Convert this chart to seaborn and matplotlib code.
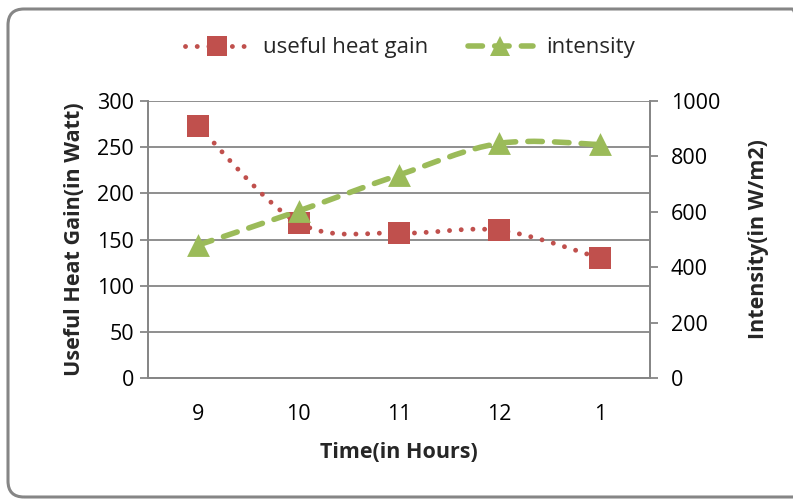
import matplotlib
matplotlib.use("Agg")
import matplotlib.pyplot as plt
import seaborn as sns
import pandas as pd
from matplotlib.path import Path
from matplotlib.patches import PathPatch, FancyBboxPatch
from matplotlib.lines import Line2D

# --- DATA ---
hours = ["9", "10", "11", "12", "1"]
heat_gain = [273, 168, 157, 160, 130]      # Watt
intensity = [480, 603, 733, 847, 843]      # W/m2

RED = "#C0504D"
GREEN = "#9BBB59"
GREY = "#868686"

sns.set_theme(style="white")
plt.rcParams["font.family"] = ["Open Sans", "DejaVu Sans"]


def smooth_path(xs, ys):
    """Excel-style smoothed line: Catmull-Rom as cubic bezier segments."""
    pts = list(zip(xs, ys))
    n = len(pts)
    verts = [pts[0]]
    codes = [Path.MOVETO]
    for i in range(n - 1):
        p0 = pts[i - 1] if i > 0 else pts[i]
        p1 = pts[i]
        p2 = pts[i + 1]
        p3 = pts[i + 2] if i + 2 < n else pts[i + 1]
        c1 = (p1[0] + (p2[0] - p0[0]) / 6, p1[1] + (p2[1] - p0[1]) / 6)
        c2 = (p2[0] - (p3[0] - p1[0]) / 6, p2[1] - (p3[1] - p1[1]) / 6)
        verts += [c1, c2, p2]
        codes += [Path.CURVE4] * 3
    return Path(verts, codes)


df = pd.DataFrame({"x": range(len(hours)), "heat": heat_gain, "intensity": intensity})

fig = plt.figure(figsize=(7.93, 5.0), dpi=100)
ax1 = fig.add_axes([148 / 793, 1 - 378 / 500, 502 / 793, 277 / 500])
ax2 = ax1.twinx()

RED_LS = (0, (0.01, 2.4))
GREEN_LS = (0, (2.6, 2.2))

# heat gain (left axis)
ax1.add_patch(PathPatch(smooth_path(df["x"], df["heat"]), fill=False, edgecolor=RED,
                        lw=3.5, linestyle=RED_LS, capstyle="round", zorder=3))
sns.scatterplot(data=df, x="x", y="heat", ax=ax1, marker="s", s=250, color=RED,
                linewidth=0, zorder=4, legend=False)

# intensity (right axis)
ax2.add_patch(PathPatch(smooth_path(df["x"], df["intensity"]), fill=False, edgecolor=GREEN,
                        lw=4.0, linestyle=GREEN_LS, capstyle="round", zorder=3))
sns.scatterplot(data=df, x="x", y="intensity", ax=ax2, marker="^", s=270, color=GREEN,
                linewidth=0, zorder=4, legend=False)

# axes limits / ticks
ax1.set_xlim(-0.5, len(hours) - 0.5)
ax1.set_ylim(0, 300)
ax2.set_ylim(0, 1000)
ax1.set_yticks(range(0, 301, 50))
ax2.set_yticks(range(0, 1001, 200))
ax1.set_xticks(range(len(hours)))
ax1.set_xticklabels(hours)
ax1.set_xticks([i - 0.5 for i in range(len(hours) + 1)], minor=True)

ax1.grid(axis="y", color=GREY, lw=1.3)
ax1.set_axisbelow(True)

for ax in (ax1, ax2):
    ax.spines["top"].set_visible(False)
    for side in ("left", "right", "bottom"):
        ax.spines[side].set_color(GREY)
        ax.spines[side].set_linewidth(1.3)

ax1.tick_params(axis="x", which="major", length=0, pad=19, labelsize=15.5, colors="black")
ax1.tick_params(axis="x", which="minor", length=6, width=1.3, color=GREY, direction="out")
ax1.tick_params(axis="y", length=6, width=1.3, color=GREY, labelsize=15.5, pad=4,
                labelcolor="black", direction="out", left=True)
ax2.tick_params(axis="y", length=6, width=1.3, color=GREY, labelsize=15.5, pad=9,
                labelcolor="black", direction="out", right=True)

ax1.set_xlabel("Time(in Hours)", fontsize=15.5, fontweight="bold", labelpad=12)
ax1.set_ylabel("Useful Heat Gain(in Watt)", fontsize=15.5, fontweight="bold", labelpad=9)
ax2.set_ylabel("Intensity(in W/m2)", fontsize=15.5, fontweight="bold", labelpad=20)

# legend at top
handles = [
    Line2D([], [], color=RED, lw=3.5, linestyle=RED_LS, dash_capstyle="round",
           marker="s", markersize=14, markeredgewidth=0),
    Line2D([], [], color=GREEN, lw=4.0, linestyle=GREEN_LS, dash_capstyle="round",
           marker="^", markersize=14, markeredgewidth=0),
]
fig.legend(handles, ["useful heat gain", "intensity"], loc="center",
           bbox_to_anchor=(410 / 793, 1 - 48 / 500), ncol=2, frameon=False,
           fontsize=16, handlelength=2.9, columnspacing=1.8, handletextpad=0.6)

# rounded chart border (Excel chart area)
border = FancyBboxPatch((8, 3), 800, 488, boxstyle="round,pad=0,rounding_size=16",
                        transform=None, fill=False, edgecolor=GREY, lw=2.2)
fig.patches.append(border)

fig.savefig("out.png", dpi=100)
